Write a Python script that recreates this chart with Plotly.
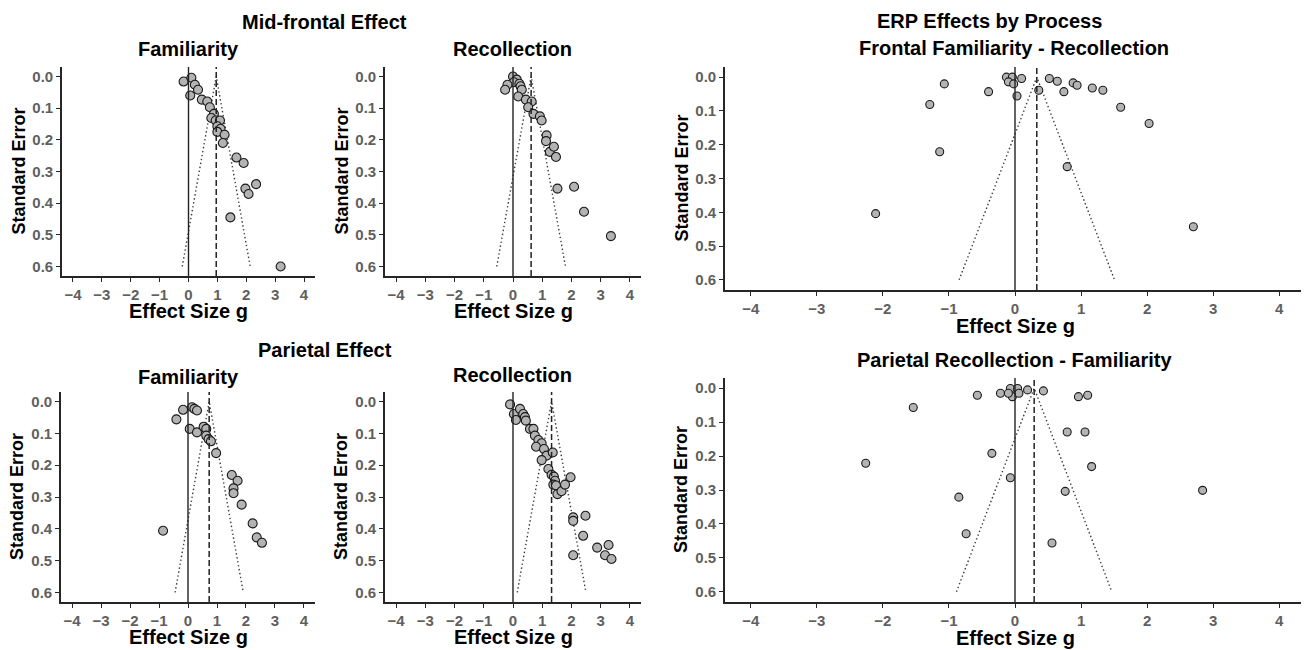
import plotly.graph_objects as go

# ---------------- data ----------------
mf_fam_g = [-0.17, 0.10, 0.22, 0.33, 0.06, 0.46, 0.65, 0.74, 0.88, 0.79, 0.94, 1.09, 1.00, 1.11, 1.00,
            1.25, 1.19, 1.66, 1.91, 2.34, 1.97, 2.08, 1.45, 3.19]
mf_fam_se = [0.016, 0.004, 0.026, 0.042, 0.060, 0.073, 0.079, 0.097, 0.118, 0.131, 0.139, 0.139, 0.157, 0.165, 0.175,
             0.184, 0.210, 0.256, 0.273, 0.340, 0.354, 0.371, 0.445, 0.600]
mf_fam_est = 0.96

mf_rec_g = [0.00, 0.13, 0.03, -0.19, -0.27, 0.22, 0.26, 0.30, 0.18, 0.44, 0.64, 0.52, 0.70, 0.92, 0.98,
            1.15, 1.13, 1.26, 1.40, 1.47, 1.52, 2.09, 2.43, 3.35]
mf_rec_se = [0.000, 0.010, 0.018, 0.026, 0.042, 0.023, 0.031, 0.042, 0.063, 0.073, 0.079, 0.097, 0.118, 0.126, 0.139,
             0.186, 0.204, 0.238, 0.222, 0.254, 0.354, 0.348, 0.427, 0.504]
mf_rec_est = 0.62

par_fam_g = [-0.17, -0.40, 0.14, 0.22, 0.31, 0.06, 0.31, 0.54, 0.63, 0.63, 0.71, 0.79, 0.97, 1.51, 1.71,
             1.57, 1.57, 1.85, 2.23, 2.37, 2.55, -0.86]
par_fam_se = [0.026, 0.056, 0.018, 0.023, 0.028, 0.086, 0.097, 0.079, 0.086, 0.107, 0.118, 0.125, 0.162, 0.231, 0.249,
              0.273, 0.288, 0.324, 0.383, 0.427, 0.444, 0.406]
par_fam_est = 0.73

par_rec_g = [-0.10, 0.03, 0.10, 0.24, 0.35, 0.41, 0.44, 0.58, 0.70, 0.75, 0.87, 0.98, 0.79, 1.06, 1.15,
             0.98, 1.36, 1.21, 1.32, 1.40, 1.44, 1.38, 1.47, 1.52, 1.66, 1.78, 1.97, 2.06, 2.06, 2.48,
             2.40, 2.06, 2.88, 3.27, 3.15, 3.37]
par_rec_se = [0.009, 0.039, 0.058, 0.023, 0.039, 0.049, 0.060, 0.086, 0.086, 0.107, 0.121, 0.131, 0.142, 0.149, 0.170,
              0.184, 0.160, 0.212, 0.230, 0.236, 0.249, 0.261, 0.264, 0.291, 0.282, 0.261, 0.238, 0.364, 0.375, 0.359,
              0.422, 0.483, 0.459, 0.451, 0.483, 0.495]
par_rec_est = 1.32

fr_diff_g = [-1.07, -1.29, -1.14, -2.11, -0.13, -0.04, -0.10, -0.02, 0.10, -0.40, 0.03, 0.36, 0.52, 0.64,
             0.74, 0.88, 0.94, 1.17, 1.33, 1.60, 2.03, 0.79, 2.70]
fr_diff_se = [0.020, 0.081, 0.221, 0.404, 0.000, 0.000, 0.014, 0.020, 0.004, 0.043, 0.056, 0.039, 0.004, 0.012,
              0.043, 0.017, 0.024, 0.032, 0.039, 0.089, 0.137, 0.265, 0.443]
fr_diff_est = 0.33

par_diff_g = [-1.54, -2.26, -0.85, -0.74, -0.57, -0.22, -0.07, 0.04, -0.04, 0.06, -0.10, 0.19, 0.43, 0.96,
              1.10, 0.79, 1.06, -0.35, 1.16, -0.07, 0.76, 2.84, 0.56]
par_diff_se = [0.057, 0.221, 0.321, 0.429, 0.021, 0.015, 0.001, 0.001, 0.025, 0.015, 0.015, 0.005, 0.008, 0.025,
               0.021, 0.129, 0.129, 0.192, 0.231, 0.264, 0.304, 0.301, 0.456]
par_diff_est = 0.29

x_ticks = [-4, -3, -2, -1, 0, 1, 2, 3, 4]
y_ticks = [0.0, 0.1, 0.2, 0.3, 0.4, 0.5, 0.6]
se_max = 0.6

# ---------------- layout helpers ----------------
OFF = 8  # page body margin of the written html
W, H = 1309 - OFF, 650 - OFF


def px_x(p):
    return (p - OFF) / W


def px_y(p):
    return 1 - (p - OFF) / H


panels = [
    # (g, se, est, x0, x1, ytop, ybot, marker size)
    (mf_fam_g, mf_fam_se, mf_fam_est, 62, 315, 67, 276, 9),
    (mf_rec_g, mf_rec_se, mf_rec_est, 385, 641, 67, 276, 9),
    (fr_diff_g, fr_diff_se, fr_diff_est, 725, 1305, 67, 290, 8),
    (par_fam_g, par_fam_se, par_fam_est, 61, 315, 392, 602, 9),
    (par_rec_g, par_rec_se, par_rec_est, 385, 641, 392, 602, 9),
    (par_diff_g, par_diff_se, par_diff_est, 725, 1305, 378, 602, 8),
]

FAM = "Liberation Sans, Arial, sans-serif"
fig = go.Figure()
tick_font = dict(family=FAM, size=15, color="#5f5f5f", weight="bold")
xtitle_font = dict(family=FAM, size=20, color="black", weight="bold")
ytitle_font = dict(family=FAM, size=18, color="black", weight="bold")
head_font = dict(family=FAM, size=20, color="black", weight="bold")

shapes = []
annotations = []
for i, (g, se, est, x0, x1, yt, yb, msize) in enumerate(panels, start=1):
    xa = "x" if i == 1 else f"x{i}"
    ya = "y" if i == 1 else f"y{i}"
    xkey = "xaxis" if i == 1 else f"xaxis{i}"
    ykey = "yaxis" if i == 1 else f"yaxis{i}"
    xr = [-4.38, 4.38] if x1 - x0 < 300 else [-4.39, 4.39]
    fig.update_layout(**{
        xkey: dict(domain=[px_x(x0), px_x(x1)], anchor=ya, range=xr, tickvals=x_ticks,
                   showline=True, linecolor="#262626", linewidth=1.6, ticks="outside", ticklen=4,
                   tickcolor="#262626", tickwidth=1.2, showgrid=False, zeroline=False,
                   tickfont=tick_font),
        ykey: dict(domain=[px_y(yb), px_y(yt)], anchor=xa, range=[0.63, -0.03], tickvals=y_ticks,
                   tickformat=".1f", showline=True, linecolor="#262626", linewidth=1.6, ticks="outside",
                   ticklen=4, tickcolor="#262626", tickwidth=1.2, showgrid=False, zeroline=False,
                   tickfont=tick_font),
    })
    # funnel (dotted)
    fig.add_trace(go.Scatter(x=[est - 1.96 * se_max, est, est + 1.96 * se_max], y=[se_max, 0, se_max],
                             mode="lines", line=dict(color="#3a3a3a", width=1.4, dash="1.4px,2.6px"),
                             xaxis=xa, yaxis=ya, showlegend=False, hoverinfo="skip"))
    # zero line and estimate line
    shapes.append(dict(type="line", xref=xa, yref=f"{ya} domain", x0=0, x1=0, y0=0, y1=1,
                       line=dict(color="#222", width=1.4)))
    shapes.append(dict(type="line", xref=xa, yref=f"{ya} domain", x0=est, x1=est, y0=0, y1=1,
                       line=dict(color="#222", width=1.5, dash="6px,3px")))
    # points
    fig.add_trace(go.Scatter(x=g, y=se, mode="markers",
                             marker=dict(size=msize, color="#b3b3b3", line=dict(color="#1a1a1a", width=1.1)),
                             xaxis=xa, yaxis=ya, showlegend=False))
    # axis titles
    annotations.append(dict(text="Effect Size g", xref="paper", yref="paper", x=px_x((x0 + x1) / 2),
                            y=px_y(yb + (35 if x1 - x0 < 300 else 36)), showarrow=False,
                            xanchor="center", yanchor="middle", font=xtitle_font))
    annotations.append(dict(text="Standard Error", xref="paper", yref="paper", x=px_x(x0 - 44),
                            y=px_y((yt + yb) / 2), showarrow=False, textangle=-90,
                            xanchor="center", yanchor="middle", font=ytitle_font))

titles = [
    ("Mid-frontal Effect", 324, 22),
    ("Familiarity", 188, 49),
    ("Recollection", 512, 49),
    ("ERP Effects by Process", 989, 21),
    ("Frontal Familiarity - Recollection", 1014, 48),
    ("Parietal Effect", 325, 350),
    ("Familiarity", 188, 377),
    ("Recollection", 512, 375),
    ("Parietal Recollection - Familiarity", 1014, 360),
]
for t, x, y in titles:
    annotations.append(dict(text=t, xref="paper", yref="paper", x=px_x(x), y=px_y(y), showarrow=False,
                            xanchor="center", yanchor="middle", font=head_font))

fig.update_layout(width=W, height=H, margin=dict(l=0, r=0, t=0, b=0), plot_bgcolor="white",
                  paper_bgcolor="white", shapes=shapes, annotations=annotations, showlegend=False)

fig.write_html("out.html")
